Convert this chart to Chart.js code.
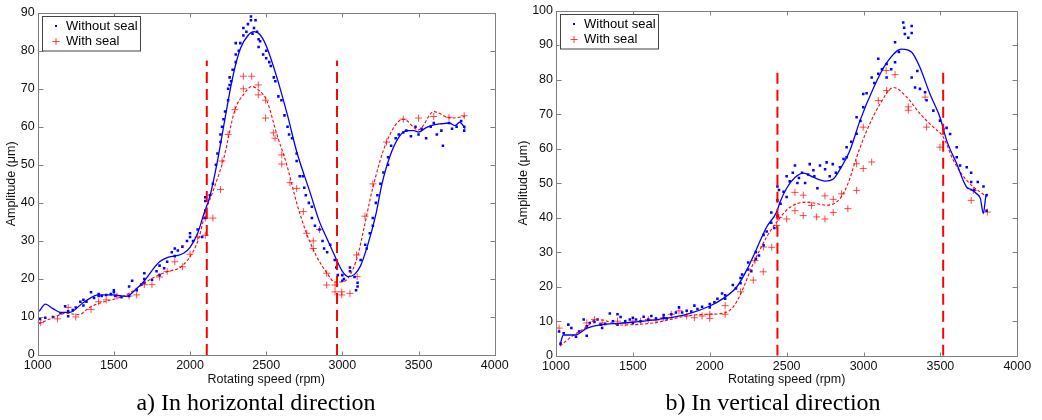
<!DOCTYPE html>
<html>
<head>
<meta charset="utf-8">
<script src="https://cdn.jsdelivr.net/npm/chart.js@4"></script>
<style>
body{margin:0;background:#fff;width:1042px;height:420px;position:relative;overflow:hidden}
canvas{position:absolute;top:0}
.cap{position:absolute;top:390px;width:512px;text-align:center;font:24px/24px "Liberation Serif","Times New Roman",serif;color:#000}
</style>
</head>
<body>
<canvas id="hChart" width="520" height="390" style="left:0"></canvas>
<canvas id="vChart" width="530" height="390" style="left:512px"></canvas>
<div class="cap" style="left:0">a) In horizontal direction</div>
<div class="cap" style="left:517px">b) In vertical direction</div>
<script>
// ---- data: [rpm, amplitude in um] ----
var seriesNames = ['Without seal', 'With seal'];
var xTicks = [1000, 1500, 2000, 2500, 3000, 3500, 4000];

// a) horizontal direction
var hBluePts = [[1015,9.5],[1050,9.8],[1100,10],[1150,11],[1180,12.8],[1200,10.2],[1200,11.5],[1230,11.8],[1250,12.5],[1280,14],[1300,13],[1300,14.5],[1320,14],[1350,16.5],[1370,15],[1400,15.5],[1400,16],[1420,15.5],[1450,15.8],[1480,16],[1500,16.5],[1500,17],[1510,15.5],[1550,15.2],[1600,15.5],[1600,18],[1620,19.5],[1650,17],[1680,18.5],[1700,20],[1700,21.5],[1700,19],[1750,19.8],[1780,22],[1800,23.5],[1800,21],[1830,22.8],[1850,24.5],[1880,27],[1900,28],[1900,26],[1920,27.5],[1950,28.5],[1980,30],[2000,31],[2000,32],[2020,30],[2050,33],[2080,31],[2100,36],[2100,38],[2100,40.5],[2100,41.5],
  [2130,42],[2150,45],[2170,50],[2180,53],[2200,56],[2200,58],[2210,60],[2220,62],[2230,64],[2250,67],[2250,70],[2260,71],[2260,73],[2270,72],[2280,75],[2300,77],[2300,79],[2300,82],[2320,80],[2330,82],[2350,84],[2350,86],[2370,85],[2380,87],[2400,89],[2400,88],[2410,84.5],[2420,86],[2430,88],[2440,85],[2450,83],[2450,81],[2460,82.5],[2480,79],[2500,80],[2500,78],[2520,77],[2530,76],[2550,73],[2560,72],[2580,68],[2600,67],[2620,63],[2640,60],[2650,58],[2670,57],[2700,53],[2700,51],[2720,47],[2740,47],[2750,44],[2760,42],[2780,40],[2800,39],[2800,36],[2820,34],[2850,33],[2870,30],[2880,28],[2900,27],[2920,29],[2950,25],[2960,23],[2970,21],[3000,19.5],[3000,21],[3010,20],[3050,22],[3050,23],[3080,20.5],[3090,17],[3100,18],[3100,19],[3120,25],[3150,29],[3160,28],[3180,32],[3200,34],[3200,36],[3220,40],[3230,42],[3250,45],[3270,48],[3300,50],[3300,52],[3320,55],[3350,57],[3370,58],[3400,58.5],[3420,59],[3450,57.5],[3480,60],[3500,58],[3520,59.5],[3550,57],[3580,60],[3600,61],[3620,58],[3650,59],[3660,55],[3700,61],[3720,59.5],[3750,60],[3780,61.5],[3800,59],[3800,60]];
var hRedPts = [[1020,8.5],[1130,9.5],[1200,12.5],[1250,10],[1350,12],[1400,14],[1450,14.5],[1520,15.5],[1600,15.5],[1650,15.8],[1700,18.5],[1750,18.5],[1800,20.5],[1850,22],[1900,24.5],[1950,23.2],[2000,26.5],[2050,31],[2100,31.5],[2100,36],[2150,36],[2200,43.5],[2210,51],[2250,58],[2295,64.5],[2350,73.3],[2405,73.3],[2350,70],[2448,71],[2448,68.4],[2496,67],[2496,62.3],[2547,58.4],[2558,57],[2602,52.6],[2602,50.2],[2656,45.3],[2700,43.8],[2744,37.7],[2766,32],[2809,30],[2809,28],[2850,33],[2897,21.5],[2897,18.4],[2952,18.4],[2952,16.6],[2996,16.6],[2996,15.8],[3050,16.2],[3093,26.3],[3097,20.6],[3148,36.5],[3200,45],[3290,56],[3400,62],[3500,62.3],[3600,62.7],[3700,62.5],[3800,62.9]];
var hBlueFit = [[1010,11.5],[1050,13.4],[1100,12.2],[1150,11.2],[1210,11.2],[1300,13.8],[1400,15.8],[1500,15.8],[1580,15.4],[1650,17.5],[1700,19.5],[1750,22.2],[1800,24.5],[1850,25.6],[1910,26.1],[1960,26.8],[2000,28.3],[2050,32],[2090,37],[2130,41.7],[2180,51],[2220,60],[2280,73],[2330,80.5],[2380,84],[2420,85],[2460,84.2],[2500,81.3],[2570,73],[2640,63],[2700,53.5],[2790,42.5],[2850,35],[2900,30.5],[2960,25.2],[3000,22],[3040,20.6],[3080,21.2],[3120,23.5],[3170,29.4],[3220,37],[3260,45],[3310,52],[3370,57.2],[3420,59],[3470,59],[3500,58.6],[3550,59.8],[3600,60.5],[3650,60.8],[3700,61],[3740,60.3],[3770,61.2],[3790,60.5],[3805,59.5]];
var hRedFit = [[1005,8.2],[1100,9.8],[1190,11],[1270,10.6],[1340,12.5],[1410,13.7],[1520,14.9],[1600,16.2],[1715,19.3],[1780,20.8],[1850,21.9],[1945,23.3],[2020,27.2],[2060,31],[2100,37.5],[2150,43],[2220,51.5],[2295,64.5],[2350,68.4],[2405,70.6],[2460,69.3],[2503,67],[2570,58],[2635,50],[2700,40],[2760,32.5],[2830,26],[2900,21.5],[2950,19.2],[3000,19.2],[3050,21],[3100,26],[3140,33],[3200,44],[3290,56],[3400,62],[3500,59.2],[3600,64],[3710,62.3],[3805,62.7]];
var hMarks = [2110, 2965];
var hMarkTop = 77.4;

// b) vertical direction
var vBluePts = [[1020,7],[1030,3.5],[1050,6.5],[1080,9],[1100,8],[1130,5.5],[1150,7],[1180,10.5],[1200,5.8],[1200,8.5],[1220,9.5],[1250,9.8],[1270,10.5],[1290,9],[1300,8],[1320,9.2],[1350,12.2],[1370,10],[1400,9],[1400,12],[1420,11.2],[1450,10],[1480,10.5],[1500,11],[1500,9.5],[1520,10.5],[1550,10],[1570,11.3],[1600,10.5],[1620,11.5],[1650,10.8],[1700,11.8],[1700,11],[1720,10.8],[1750,12],[1780,12.5],[1800,14],[1820,12.5],[1850,13],[1880,12.8],[1900,14.5],[1920,13.5],[1950,14.2],[2000,15],[2000,14],[2030,15.5],[2050,16.5],[2080,18],[2100,17.5],[2100,16.5],[2150,20.5],[2170,19.5],[2200,22.5],[2200,21],[2210,23.5],[2250,27],[2250,25],[2270,24.5],[2300,28],[2300,30],[2320,29],[2350,32],[2350,35],[2370,36],[2400,38.5],[2400,41.5],[2420,37],[2440,40.5],[2440,45],[2440,49],[2450,48],[2460,44],[2480,47.5],[2500,46],[2500,52],[2520,50.5],[2540,53],[2554,55.1],[2570,50],[2580,51.5],[2600,53],[2620,50],[2640,52.5],[2650,55.5],[2674,53.7],[2680,52],[2700,48.5],[2717,55.1],[2750,54],[2760,56],[2780,52],[2800,55.5],[2820,53],[2847,54.6],[2870,57],[2890,60.4],[2890,57.5],[2920,62],[2955,69.1],[2955,64.3],[2980,68],[2998,75.8],[2998,72],[3020,76],[3053,80.6],[3070,79],[3096,86],[3096,81.7],[3120,83],[3150,84.5],[3150,80.6],[3180,83],[3205,90.8],[3205,85],[3230,88],[3258,96.5],[3264,95],[3269,93.2],[3291,92.1],[3313,95.5],[3313,93.5],[3313,80.6],[3335,77.7],[3350,82.5],[3367,77.3],[3400,76.3],[3410,74],[3454,71],[3497,68.1],[3519,65.7],[3540,66],[3563,64.2],[3606,60.4],[3606,57.5],[3628,55.1],[3671,54.6],[3700,50.3],[3700,53],[3720,48],[3743,50.3],[3780,49],[3800,46.5],[3800,42]];
var vRedPts = [[1020,8],[1200,9.5],[1250,10.5],[1300,9.5],[1400,10],[1450,9.5],[1500,10],[1550,10],[1600,10.5],[1650,10.3],[1700,11],[1750,12],[1800,13],[1850,11.5],[1900,11],[1950,11.5],[2000,12],[2000,10.8],[2100,12],[2100,14.5],[2200,18.5],[2283,21.9],[2348,24.3],[2294,27.6],[2350,31.5],[2403,31.4],[2435,37.7],[2450,40],[2500,39.6],[2554,42],[2554,47.3],[2608,46.5],[2608,40.6],[2662,43.5],[2695,40.2],[2749,46.3],[2749,39.6],[2803,45.3],[2803,41.5],[2857,46.9],[2898,42.6],[2955,47.9],[2955,55.6],[2998,54.2],[2998,66.2],[3053,56.1],[3096,73.9],[3150,76.8],[3147,82.6],[3205,81.4],[3291,72.1],[3291,71.1],[3400,74.9],[3410,66.2],[3497,60.4],[3700,45],[3714,47.9],[3805,41.6]];
var vBlueFit = [[1026,3.1],[1048,6],[1124,6],[1200,7.9],[1286,8.9],[1416,9.4],[1525,9.8],[1676,10.6],[1850,12],[2001,14.4],[2088,16.6],[2175,19.9],[2240,24.8],[2305,31],[2370,37.3],[2435,41.6],[2457,44.5],[2500,48.5],[2554,51.6],[2608,52.9],[2673,51.7],[2749,50.6],[2803,51.2],[2847,54],[2912,59.5],[2977,68.1],[3064,77.5],[3150,84.8],[3248,88.8],[3313,87.9],[3367,83.5],[3432,75.8],[3497,69.1],[3541,62.3],[3606,55.6],[3671,48.8],[3700,48.2],[3736,46.9],[3760,45.5],[3779,41.2],[3795,46],[3805,46.9]];
var vRedFit = [[1026,2.8],[1100,5.5],[1200,8.4],[1260,10.5],[1308,10.3],[1416,8.9],[1633,9.5],[1850,11.5],[1980,12],[2088,12.3],[2150,14],[2197,17.5],[2283,26.7],[2370,34.4],[2435,38.7],[2522,43],[2630,44.5],[2760,43.6],[2847,45.5],[2900,50],[2955,57.5],[3021,65.2],[3107,72.9],[3194,77.7],[3281,74.9],[3367,70.1],[3454,66.2],[3519,63.3],[3584,56.6],[3671,50.8],[3801,46]];
var vMarks = [2440, 3518];
var vMarkTop = 83.5;

Chart.defaults.font.family = "'Liberation Sans', Arial, sans-serif";
Chart.defaults.font.size = 12.5;
Chart.defaults.color = '#111';

function pts(list) {
  return list.map(function (p) { return {x: p[0], y: p[1]}; });
}

// frame with inward ticks + boxed legend inside the plot
var boxPlugin = {
  id: 'box',
  afterDraw: function (chart) {
    var ctx = chart.ctx, a = chart.chartArea;
    var sx = chart.scales.x, sy = chart.scales.y;
    var L = Math.round(a.left) + 0.5, R = Math.round(a.right) + 0.5;
    var T = Math.round(a.top) + 0.5, B = Math.round(a.bottom) + 0.5;
    ctx.save();
    ctx.strokeStyle = '#808080';
    ctx.lineWidth = 1;
    ctx.strokeRect(L, T, R - L, B - T);
    ctx.beginPath();
    sx.ticks.forEach(function (t) {
      var px = Math.round(sx.getPixelForValue(t.value)) + 0.5;
      ctx.moveTo(px, B); ctx.lineTo(px, B - 4);
      ctx.moveTo(px, T); ctx.lineTo(px, T + 4);
    });
    sy.ticks.forEach(function (t) {
      var py = Math.round(sy.getPixelForValue(t.value)) + 0.5;
      ctx.moveTo(L, py); ctx.lineTo(L + 5, py);
      ctx.moveTo(R, py); ctx.lineTo(R - 5, py);
    });
    ctx.stroke();

    // legend
    var lx = L + 3, ly = T + 2.5, lw = 98, lh = 34.5;
    ctx.fillStyle = '#fff';
    ctx.fillRect(lx, ly, lw, lh);
    ctx.strokeStyle = '#444';
    ctx.strokeRect(Math.round(lx) + 0.5, Math.round(ly) + 0.5, lw, lh);
    ctx.fillStyle = '#0000ff';
    ctx.fillRect(lx + 13.5, ly + 9, 2, 2);
    ctx.strokeStyle = 'rgba(255,0,0,0.75)';
    ctx.beginPath();
    ctx.moveTo(lx + 11, ly + 25.5); ctx.lineTo(lx + 18, ly + 25.5);
    ctx.moveTo(lx + 14.5, ly + 22); ctx.lineTo(lx + 14.5, ly + 29);
    ctx.stroke();
    ctx.fillStyle = '#000';
    ctx.font = "13px 'Liberation Sans', Arial, sans-serif";
    ctx.textBaseline = 'middle';
    ctx.fillText(seriesNames[0], lx + 24.5, ly + 10);
    ctx.fillText(seriesNames[1], lx + 24.5, ly + 25.5);
    ctx.restore();
  }
};

function makeChart(id, c) {
  var datasets = [];
  c.marks.forEach(function (m) {
    datasets.push({
      data: [{x: m, y: 0}, {x: m, y: c.markTop}],
      showLine: true, pointRadius: 0,
      borderColor: '#ff0000', borderWidth: 2, borderDash: [11, 6]
    });
  });
  datasets.push({
    label: seriesNames[0] + ' fit', data: pts(c.blueFit),
    showLine: true, pointRadius: 0, borderColor: '#0000ff', borderWidth: 1.3,
    cubicInterpolationMode: 'monotone'
  });
  datasets.push({
    label: seriesNames[1] + ' fit', data: pts(c.redFit),
    showLine: true, pointRadius: 0, borderColor: '#ff0000', borderWidth: 1.1,
    borderDash: [3, 2], cubicInterpolationMode: 'monotone'
  });
  datasets.push({
    label: seriesNames[0], data: pts(c.bluePts),
    pointStyle: 'rect', pointRadius: 1.8, borderWidth: 0,
    backgroundColor: '#0000ff', borderColor: '#0000ff'
  });
  datasets.push({
    label: seriesNames[1], data: pts(c.redPts),
    pointStyle: 'cross', pointRadius: 3.5, borderWidth: 1,
    borderColor: 'rgba(255,0,0,0.7)'
  });

  return new Chart(document.getElementById(id), {
    type: 'scatter',
    data: {datasets: datasets},
    plugins: [boxPlugin],
    options: {
      responsive: false,
      animation: false,
      events: [],
      devicePixelRatio: 1,
      layout: {padding: {left: 0, top: c.padTop, right: c.padRight, bottom: 3}},
      plugins: {legend: {display: false}, tooltip: {enabled: false}},
      scales: {
        x: {
          type: 'linear', min: 1000, max: 4000,
          afterBuildTicks: function (s) { s.ticks = xTicks.map(function (v) { return {value: v}; }); },
          afterFit: function (s) { s.height = c.xHeight; },
          grid: {display: false, drawTicks: false},
          border: {display: false},
          ticks: {padding: 3, autoSkip: false, maxRotation: 0,
            callback: function (v) { return String(v); }},
          title: {display: true, text: 'Rotating speed (rpm)', padding: {top: 0, bottom: 0}}
        },
        y: {
          min: 0, max: c.yMax,
          afterFit: function (s) { s.width = c.yWidth; },
          grid: {display: false, drawTicks: false},
          border: {display: false},
          ticks: {stepSize: 10, padding: 3, callback: function (v) { return String(v); }},
          title: {display: true, text: 'Amplitude (\u03bcm)', padding: {top: 4, bottom: 0}}
        }
      }
    }
  });
}

makeChart('hChart', {
  bluePts: hBluePts, redPts: hRedPts, blueFit: hBlueFit, redFit: hRedFit,
  marks: hMarks, markTop: hMarkTop, yMax: 90,
  padTop: 12.7, padRight: 25.3, yWidth: 37.7, xHeight: 32
});
makeChart('vChart', {
  bluePts: vBluePts, redPts: vRedPts, blueFit: vBlueFit, redFit: vRedFit,
  marks: vMarks, markTop: vMarkTop, yMax: 100,
  padTop: 9.3, padRight: 24.7, yWidth: 44, xHeight: 31.3
});
</script>
</body>
</html>
